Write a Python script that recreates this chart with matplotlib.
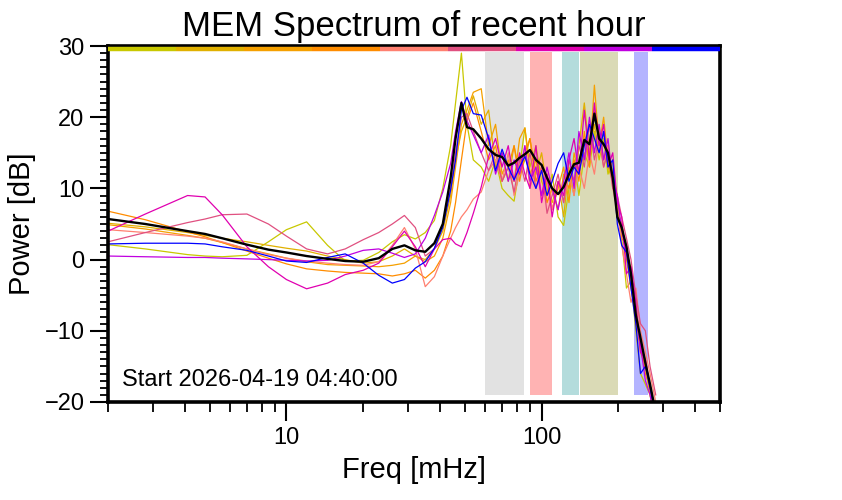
import numpy as np
import matplotlib
matplotlib.use("Agg")
import matplotlib.pyplot as plt
from matplotlib.ticker import LogLocator, NullFormatter, FixedLocator, MultipleLocator

plt.rcParams['font.family'] = ['Liberation Sans', 'DejaVu Sans']

# frequency grid [mHz]
freq = [2, 2.8, 4.1, 4.8, 5.6, 7, 8.5, 10, 12, 14.5, 17, 20, 23, 26, 29, 32, 35, 38, 41, 44,
        46, 48.5, 51, 54, 58, 62, 66, 70, 74, 78, 82, 86, 90, 95, 100, 105, 110, 116, 122, 128,
        134, 140, 147, 154, 161, 168, 175, 182, 190, 198, 206, 215, 224, 234, 244, 255, 266, 280]

# power [dB] for each 6-min segment, plus the mean
p_yellow = [2.1, 1.5, 0.7, 0.5, 0.4, 0.6, 2.5, 4.2, 5.3, 2.0, -0.2, -0.1, 1.0, 2.5, 3.5, 2.9, 3.8, 5.5, 10, 16,
            22, 29, 19, 14, 13, 11, 14, 10, 9, 8.2, 13, 18.5, 13, 16, 11, 9, 12, 6, 4.8, 10,
            14, 9, 15, 13, 18, 14, 17, 12, 14, 8, 3, -4, -3, -10, -16, -17.5, -19, -23]
p_gold = [5.1, 4.6, 3.8, 3.4, 3.0, 2.5, 2.0, 1.6, 1.2, 0.5, 0.0, -0.5, -0.3, 0.5, 1.5, 0.5, 0.0, 1.5, 4.0, 9.0,
          14.0, 18.0, 20.0, 23.0, 19, 21, 13, 15, 11, 16, 12, 14, 17, 12, 15, 10, 8, 11, 6, 13,
          9, 16, 22, 15, 19, 15, 18, 13, 11, 7, 5, 0, -4, -8, -13, -15, -19, -23]
p_orange = [4.9, 4.3, 3.4, 3.0, 2.4, 1.5, 0.8, 0.2, -0.3, -0.7, -0.8, -0.9, -1.0, -0.8, -0.5, 0.5, -0.3, 0.5, 3.0, 8.0,
            13.0, 19.0, 21.0, 23.5, 24, 16, 19, 12, 14, 11, 17, 18.5, 12, 14, 9, 12, 7, 10, 13, 8,
            15, 12, 17, 14, 24.5, 16, 20, 14, 12, 9, 3, 2, -3, -6, -12, -14, -18, -22]
p_darkorange = [6.8, 5.6, 3.9, 3.2, 2.4, 1.2, 0.2, -0.6, -1.3, -1.6, -1.8, -1.9, -2.0, -2.3, -2.0, -1.5, -2.6, -1.5, 0.5, 4.0,
                8.0, 14.0, 19.5, 22.0, 18, 14, 16, 11, 13, 16, 11, 15, 17, 11, 13, 8, 10, 7, 12, 10,
                14, 11, 18, 13, 21, 18, 14, 16, 12, 6, 5, 0, -1, -9, -11, -16, -18, -22]
p_salmon = [4.2, 3.8, 3.3, 3.0, 2.5, 1.5, 0.7, 0.2, -0.2, -0.5, -0.7, -0.8, -0.3, 2.0, 4.5, 1.5, -3.8, -2.4, 0.5, 3.0,
            4.5, 6.0, 7.0, 8.5, 9.5, 12.5, 14, 11, 15, 9, 12, 16, 10, 13, 9, 12, 7, 11, 8, 12,
            9, 13, 10, 15, 12, 17, 13, 16, 10, 7, 2, -2, -6, -4, -10, -13, -16, -20]
p_pink = [2.5, 3.8, 5.2, 5.7, 6.3, 6.4, 5.0, 3.3, 1.5, 0.8, 1.5, 2.8, 3.8, 5.0, 6.2, 4.5, 0.5, 1.5, 5.0, 10.0,
          15.0, 20.0, 20.5, 18.0, 15, 12.5, 15, 11, 13, 9.5, 14, 11, 15, 10, 13, 6.5, 9, 12, 8, 14,
          11, 16, 13, 19, 14, 17, 13, 15, 10, 9, 6, 3, 0, -5, -9, -10, -15, -19]
p_magenta = [4.0, 6.4, 9.0, 8.8, 6.3, 1.8, -1.0, -2.8, -4.1, -3.3, -2.1, -1.5, -0.5, 1.8, 4.0, 1.8, -1.0, 1.5, 2.8, 3.0,
             2.2, 1.8, 3.8, 6.5, 10.2, 14.5, 17, 13, 16, 11, 15, 12, 10, 16, 8, 12, 6, 11, 9, 14,
             17, 12, 21, 14, 22, 16, 19, 13, 15, 8, 6, -2, -1, -6, -13, -14, -18, -22]
p_purple = [0.5, 0.4, 0.3, 0.3, 0.2, 0.1, 0.0, -0.1, -0.2, -0.1, 0.5, 1.3, 1.5, 0.9, 0.3, 0.8, 3.0, 6.2, 9.5, 13.5,
            18.0, 22.2, 19.5, 17.5, 15, 17.5, 12, 15, 11, 14, 12, 16, 11, 13, 9, 13, 10, 7, 11, 15,
            10, 18, 14, 20, 15, 19, 14, 17, 11, 9, 4, 1, -2, -8, -12, -17, -19, -23]
p_blue = [2.2, 2.3, 2.3, 2.2, 1.8, 1.3, 0.5, -0.2, -0.4, 0.3, 0.8, -0.5, -2.2, -3.3, -2.8, -1.2, -0.3, 1.6, 4.5, 9.8,
          14.0, 21.0, 22.8, 20.5, 20.3, 17, 12.5, 15.5, 13, 11.2, 13, 14.5, 12, 10, 12.5, 9, 11, 13.5, 15, 11,
          13, 12, 16, 19, 17, 15, 18, 13, 14, 5, 2, 1, -4, -9, -16, -15, -18, -22]
p_mean = [5.7, 5.0, 4.0, 3.6, 3.0, 2.1, 1.4, 1.0, 0.5, 0.1, -0.2, -0.3, 0.2, 1.5, 2.0, 1.3, 1.1, 2.3, 5.0, 11.5,
          17.0, 22.0, 18.6, 18.3, 17.0, 15.5, 14.7, 14.4, 13.2, 13.6, 14.3, 14.8, 15.4, 14.0, 13.3, 11.5, 10.0, 9.2, 10.2, 12.0,
          13.4, 13.6, 16.8, 16.2, 20.5, 17.0, 16.2, 15.0, 11.5, 6.0, 4.5, 1.8, -2.0, -7.8, -11.0, -14.5, -17.5, -21.5]

segments = [p_yellow, p_gold, p_orange, p_darkorange, p_salmon, p_pink, p_magenta, p_purple, p_blue]
seg_colors = ['#c8c800', '#e0b000', '#f5a000', '#ff8c00', '#ff8070',
              '#e05080', '#e000b0', '#c000e0', '#0000ff']

# frequency bands [mHz]
band_lo = [60, 90, 120, 142, 230]
band_hi = [85, 110, 140, 200, 260]
band_colors = ['#e2e2e2', '#ffb3b3', '#b4dcdc', '#dadab6', '#b4b4ff']

fig = plt.figure(figsize=(8.42, 5.0), dpi=100)
ax = fig.add_axes([0.1283, 0.196, 0.7268, 0.712])
ax.set_xscale('log')
ax.set_xlim(2, 500)
ax.set_ylim(-20, 30)

for lo, hi, c in zip(band_lo, band_hi, band_colors):
    ax.fill_between([lo, hi], -19, 29.2, color=c, lw=0, zorder=1)

for p, c in zip(segments, seg_colors):
    ax.plot(freq, p, color=c, lw=0.9, zorder=2)
ax.plot(freq, p_mean, color='black', lw=1.7, zorder=3)

# colour key bar along the top
edges = np.logspace(np.log10(2), np.log10(500), len(seg_colors) + 1)
for i, c in enumerate(seg_colors):
    ax.plot([edges[i], edges[i + 1]], [29.55, 29.55], color=c, lw=3.2,
            solid_capstyle='butt', zorder=4, clip_on=False)

ax.text(0.023, 0.045, 'Start 2026-04-19 04:40:00', transform=ax.transAxes,
        fontsize=17, ha='left', va='baseline')

ax.set_title('MEM Spectrum of recent hour', fontsize=25, pad=7)
ax.set_xlabel('Freq [mHz]', fontsize=21, labelpad=5)
ax.set_ylabel('Power [dB]', fontsize=21, labelpad=6)

ax.xaxis.set_major_locator(FixedLocator([10, 100]))
ax.xaxis.set_minor_locator(LogLocator(base=10, subs=np.arange(2, 10)))
ax.xaxis.set_minor_formatter(NullFormatter())
ax.set_xticklabels(['10', '100'])
ax.yaxis.set_major_locator(MultipleLocator(10))
ax.yaxis.set_minor_locator(MultipleLocator(1))

ax.tick_params(axis='both', which='major', labelsize=17, direction='out', width=1.5)
ax.tick_params(axis='x', which='major', length=14, pad=4)
ax.tick_params(axis='x', which='minor', length=7, width=1.3)
ax.tick_params(axis='y', which='major', length=13, pad=4)
ax.tick_params(axis='y', which='minor', length=6, width=1.3)

for s in ax.spines.values():
    s.set_linewidth(2.6)

fig.savefig('out.png', dpi=100)
